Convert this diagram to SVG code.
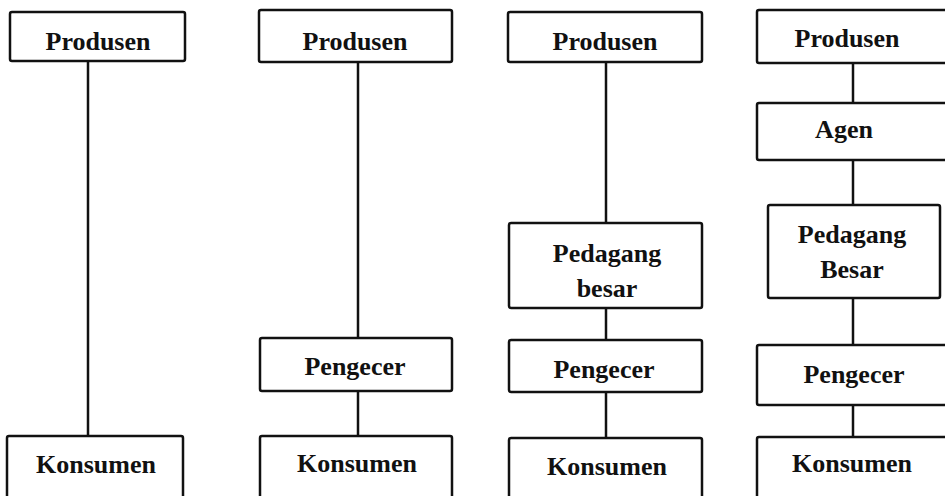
<svg xmlns="http://www.w3.org/2000/svg" width="945" height="496" viewBox="0 0 945 496">
<style>
.box{fill:#fff;stroke:#111;stroke-width:2.5}
.lbl{font-family:"Liberation Serif","Times New Roman",serif;font-size:26px;font-weight:bold;fill:#111;text-anchor:middle}
.con{stroke:#111;stroke-width:2.5;fill:none}
</style>
<rect width="945" height="496" fill="#fff"/>
<g id="connectors">
<line class="con" x1="88" y1="61" x2="88" y2="436"/>
<line class="con" x1="358" y1="62" x2="358" y2="338"/>
<line class="con" x1="358" y1="391" x2="358" y2="436"/>
<line class="con" x1="606" y1="62" x2="606" y2="223"/>
<line class="con" x1="606" y1="308" x2="606" y2="340"/>
<line class="con" x1="606" y1="392" x2="606" y2="438"/>
<line class="con" x1="853" y1="62" x2="853" y2="103"/>
<line class="con" x1="853" y1="160" x2="853" y2="205"/>
<line class="con" x1="853" y1="298" x2="853" y2="345"/>
<line class="con" x1="853" y1="405" x2="853" y2="437"/>
</g>
<g id="c1-produsen"><rect class="box" x="10" y="12" width="175" height="49" rx="2"/><text class="lbl" x="98" y="50">Produsen</text></g>
<g id="c1-konsumen"><rect class="box" x="7" y="436" width="176" height="64" rx="2"/><text class="lbl" x="96" y="473">Konsumen</text></g>
<g id="c2-produsen"><rect class="box" x="259" y="10" width="193" height="52" rx="2"/><text class="lbl" x="355" y="50">Produsen</text></g>
<g id="c2-pengecer"><rect class="box" x="260" y="338" width="192" height="53" rx="2"/><text class="lbl" x="355" y="375">Pengecer</text></g>
<g id="c2-konsumen"><rect class="box" x="260" y="436" width="192" height="64" rx="2"/><text class="lbl" x="357" y="472">Konsumen</text></g>
<g id="c3-produsen"><rect class="box" x="508" y="12" width="194" height="50" rx="2"/><text class="lbl" x="605" y="50">Produsen</text></g>
<g id="c3-pedagang"><rect class="box" x="509" y="223" width="193" height="85" rx="2"/><text class="lbl" x="607" y="262">Pedagang</text><text class="lbl" x="607" y="297">besar</text></g>
<g id="c3-pengecer"><rect class="box" x="509" y="340" width="193" height="52" rx="2"/><text class="lbl" x="604" y="378">Pengecer</text></g>
<g id="c3-konsumen"><rect class="box" x="509" y="438" width="193" height="62" rx="2"/><text class="lbl" x="607" y="475">Konsumen</text></g>
<g id="c4-produsen"><rect class="box" x="757" y="10" width="200" height="53" rx="2"/><text class="lbl" x="847" y="47">Produsen</text></g>
<g id="c4-agen"><rect class="box" x="757" y="103" width="200" height="57" rx="2"/><text class="lbl" x="844" y="138">Agen</text></g>
<g id="c4-pedagang"><rect class="box" x="768" y="205" width="172" height="93" rx="2"/><text class="lbl" x="852" y="243">Pedagang</text><text class="lbl" x="852" y="278">Besar</text></g>
<g id="c4-pengecer"><rect class="box" x="757" y="345" width="200" height="60" rx="2"/><text class="lbl" x="854" y="383">Pengecer</text></g>
<g id="c4-konsumen"><rect class="box" x="757" y="437" width="200" height="63" rx="2"/><text class="lbl" x="852" y="472">Konsumen</text></g>
</svg>
